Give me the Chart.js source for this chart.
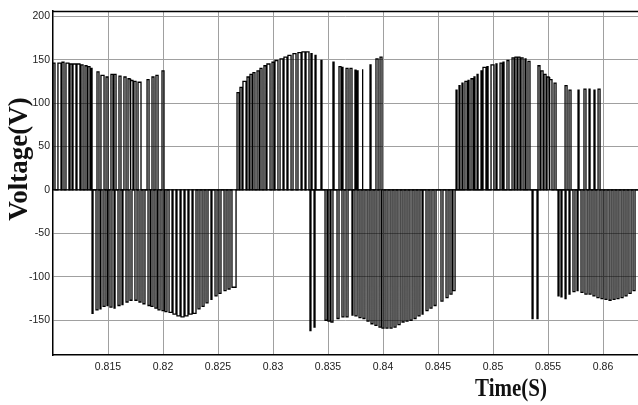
<!DOCTYPE html>
<html>
<head>
<meta charset="utf-8">
<script src="https://cdn.jsdelivr.net/npm/chart.js@4.4.1/dist/chart.umd.min.js"></script>
<style>
  html, body { margin: 0; padding: 0; background: #fff; }
  #wrap { width: 638px; height: 405px; position: relative; }
</style>
</head>
<body>
<div id="wrap"><canvas id="chart"></canvas></div>
<script>
// Pulses: [start ms, end ms, level V]
const posPulsesA = [
  [810.00, 810.18, 146], [810.45, 810.73, 146], [810.82, 811.00, 147], [811.18, 811.45, 146],
  [811.55, 811.73, 145], [811.82, 812.09, 145], [812.18, 812.45, 145], [812.55, 812.73, 144],
  [812.91, 813.09, 143], [813.18, 813.36, 142], [813.45, 813.55, 140], [814.00, 814.18, 136],
  [814.36, 814.64, 132], [814.82, 815.00, 130], [815.27, 815.45, 133], [815.55, 815.73, 133],
  [816.00, 816.18, 131], [816.45, 816.64, 130], [816.82, 817.00, 128], [817.09, 817.27, 126],
  [817.36, 817.55, 125], [817.73, 818.00, 124], [818.55, 818.73, 127], [819.00, 819.18, 130],
  [819.36, 819.55, 132], [819.91, 820.09, 137]
];
const negPulsesB = [
  [813.55, 813.64, -142], [813.91, 814.09, -138], [814.27, 814.36, -137], [814.55, 814.73, -134],
  [814.91, 815.00, -133], [815.18, 815.36, -135], [815.55, 815.64, -136], [815.91, 816.09, -133],
  [816.27, 816.36, -132], [816.64, 816.82, -129], [817.00, 817.18, -127], [817.45, 817.64, -127],
  [817.82, 818.00, -129], [818.18, 818.36, -131], [818.64, 818.82, -133], [818.91, 819.09, -134],
  [819.27, 819.45, -136], [819.55, 819.73, -138], [819.91, 820.09, -139], [820.18, 820.36, -140],
  [820.55, 820.82, -141], [820.91, 821.18, -143], [821.27, 821.55, -145], [821.64, 821.91, -146],
  [822.00, 822.27, -145], [822.36, 822.64, -143], [822.73, 823.00, -142], [823.18, 823.36, -137],
  [823.55, 823.73, -134], [823.91, 824.09, -130], [824.36, 824.45, -126], [824.73, 824.91, -122],
  [825.09, 825.27, -119], [825.55, 825.73, -116], [825.91, 826.09, -114], [826.27, 826.64, -112]
];
const posPulsesC = [
  [826.73, 826.91, 112], [827.00, 827.18, 118], [827.27, 827.55, 125], [827.64, 827.82, 130],
  [827.91, 828.09, 133], [828.18, 828.36, 135], [828.55, 828.73, 137], [828.82, 829.00, 140],
  [829.18, 829.36, 143], [829.45, 829.73, 145], [829.91, 830.09, 147], [830.18, 830.45, 149],
  [830.64, 830.91, 151], [831.00, 831.27, 153], [831.36, 831.64, 155], [831.82, 832.09, 157],
  [832.27, 832.55, 158], [832.64, 832.91, 159], [833.00, 833.27, 159], [833.45, 833.55, 157],
  [833.82, 833.91, 155], [834.36, 834.45, 149], [835.45, 835.55, 147], [836.00, 836.18, 142],
  [836.27, 836.36, 141], [836.64, 836.82, 140], [837.00, 837.18, 140], [837.45, 837.55, 138],
  [837.64, 837.73, 137], [838.09, 838.18, 139], [838.82, 838.91, 144], [839.36, 839.55, 151],
  [839.73, 839.91, 153]
];
const negPulsesD = [
  [833.36, 833.45, -162], [833.73, 833.82, -158], [834.73, 834.91, -150], [835.00, 835.18, -151],
  [835.27, 835.45, -152], [835.82, 836.00, -148], [836.27, 836.45, -146], [836.64, 836.82, -146],
  [837.18, 837.27, -144], [837.45, 837.64, -145], [837.82, 838.00, -147], [838.18, 838.36, -148],
  [838.55, 838.73, -151], [838.91, 839.09, -154], [839.27, 839.45, -156], [839.64, 839.82, -158],
  [839.91, 840.09, -159], [840.27, 840.45, -159], [840.64, 840.82, -159], [841.00, 841.18, -158],
  [841.36, 841.55, -155], [841.73, 841.91, -152], [842.09, 842.27, -151], [842.45, 842.64, -150],
  [842.82, 843.00, -148], [843.18, 843.36, -145], [843.55, 843.64, -143], [843.91, 844.09, -139],
  [844.27, 844.45, -136], [844.64, 844.82, -133], [845.27, 845.45, -128], [845.73, 845.91, -124],
  [846.09, 846.27, -120], [846.36, 846.55, -116]
];
const posPulsesE = [
  [846.64, 846.73, 115], [846.91, 847.00, 120], [847.18, 847.27, 123], [847.45, 847.64, 125],
  [847.73, 847.82, 126], [848.00, 848.18, 128], [848.27, 848.36, 130], [848.55, 848.64, 133],
  [848.91, 849.00, 137], [849.09, 849.36, 141], [849.45, 849.55, 142], [849.82, 850.09, 144],
  [850.27, 850.36, 145], [850.64, 850.82, 146], [850.91, 851.00, 147], [851.27, 851.45, 149],
  [851.73, 851.91, 152], [852.00, 852.18, 153], [852.27, 852.45, 153], [852.55, 852.73, 152],
  [852.91, 853.00, 151], [853.18, 853.36, 148], [854.09, 854.27, 143], [854.36, 854.55, 137],
  [854.64, 854.82, 133], [854.91, 855.09, 130], [855.18, 855.36, 127], [855.55, 855.73, 123],
  [856.55, 856.73, 120], [856.91, 857.09, 115], [857.73, 857.82, 115], [858.27, 858.45, 116],
  [858.73, 858.82, 116], [859.18, 859.27, 115], [859.55, 859.73, 116]
];
const negPulsesF = [
  [853.55, 853.64, -148], [854.00, 854.09, -148], [855.91, 856.00, -122], [856.18, 856.27, -123],
  [856.55, 856.64, -125], [856.91, 857.00, -120], [857.27, 857.45, -117], [857.64, 857.73, -116],
  [858.00, 858.18, -118], [858.36, 858.55, -120], [858.73, 858.91, -120], [859.09, 859.27, -122],
  [859.45, 859.64, -124], [859.82, 860.00, -125], [860.18, 860.36, -126], [860.55, 860.73, -127],
  [860.91, 861.09, -126], [861.27, 861.45, -125], [861.64, 861.82, -124], [862.00, 862.18, -122],
  [862.36, 862.55, -119], [862.73, 862.91, -116]
];

// Axis ticks
const xTicks = [0.815, 0.82, 0.825, 0.83, 0.835, 0.84, 0.845, 0.85, 0.855, 0.86];
const yTicks = [-150, -100, -50, 0, 50, 100, 150, 200];
const xMin = 0.81;
const xMax = 0.86318;

// Turns a pulse list into the points of a MATLAB-like line (up, across, down)
const pulsesToPoints = (pulses) => {
  const points = [{ x: xMin, y: 0 }];
  pulses.forEach(([start, end, level]) => {
    points.push({ x: start / 1000, y: 0 });
    points.push({ x: start / 1000, y: level });
    points.push({ x: end / 1000, y: level });
    points.push({ x: end / 1000, y: 0 });
  });
  points.push({ x: xMax, y: 0 });
  return points;
};

// Draws the frame top line and both axis titles
const titlesPlugin = {
  id: "titles",
  afterDraw(chart) {
    const { ctx, chartArea } = chart;
    ctx.save();
    ctx.strokeStyle = "#000";
    ctx.lineWidth = 1.5;
    ctx.beginPath();
    ctx.moveTo(chartArea.left, chartArea.top + 0.5);
    ctx.lineTo(chartArea.right, chartArea.top + 0.5);
    ctx.stroke();

    ctx.fillStyle = "#111";
    ctx.textAlign = "center";
    ctx.textBaseline = "middle";
    ctx.font = "bold 27px 'Liberation Serif', 'DejaVu Serif', serif";
    ctx.translate(20, 159);
    ctx.rotate(-Math.PI / 2);
    ctx.fillText("Voltage(V)", 0, 0);
    ctx.restore();

    ctx.save();
    ctx.fillStyle = "#111";
    ctx.textAlign = "center";
    ctx.textBaseline = "middle";
    ctx.font = "bold 21px 'Liberation Serif', 'DejaVu Serif', serif";
    ctx.translate(511, 389);
    ctx.scale(1, 1.2);
    ctx.fillText("Time(S)", 0, 0);
    ctx.restore();
  }
};

const gridColor = "#a0a0a0";
const tickFont = { family: "'Liberation Sans', Arial, sans-serif", size: 10.5 };

const ctx = document.querySelector("#chart").getContext("2d");
const chart = new Chart(ctx, {
  type: "line",
  data: {
    datasets: [
      {
        data: pulsesToPoints([...posPulsesA, ...posPulsesC, ...posPulsesE]),
        borderColor: "#000",
        borderWidth: 1.3,
        pointRadius: 0,
        tension: 0,
        fill: false
      },
      {
        data: pulsesToPoints([...negPulsesB, ...negPulsesD, ...negPulsesF]),
        borderColor: "#000",
        borderWidth: 1.3,
        pointRadius: 0,
        tension: 0,
        fill: false
      }
    ]
  },
  options: {
    responsive: true,
    maintainAspectRatio: false,
    animation: false,
    layout: { padding: { top: 11, right: 0, left: 0, bottom: 0 } },
    plugins: {
      legend: { display: false },
      tooltip: { enabled: false }
    },
    scales: {
      x: {
        type: "linear",
        min: xMin,
        max: xMax,
        afterBuildTicks: (scale) => {
          scale.ticks = xTicks.map((v) => ({ value: v }));
        },
        afterFit: (scale) => {
          scale.height = 50;
        },
        ticks: {
          autoSkip: false,
          maxRotation: 0,
          padding: 6,
          color: "#222",
          font: tickFont,
          callback: (v) => String(Number(v.toFixed(3)))
        },
        grid: { color: gridColor, lineWidth: 1, drawTicks: false },
        border: { color: "#000", width: 1.5 }
      },
      y: {
        min: -190,
        max: 206,
        afterBuildTicks: (scale) => {
          scale.ticks = yTicks.map((v) => ({ value: v }));
        },
        afterFit: (scale) => {
          scale.width = 53;
        },
        ticks: {
          padding: 3,
          color: "#222",
          font: tickFont
        },
        grid: { color: gridColor, lineWidth: 1, drawTicks: false },
        border: { color: "#000", width: 1.5 }
      }
    }
  },
  plugins: [titlesPlugin]
});
</script>
</body>
</html>
